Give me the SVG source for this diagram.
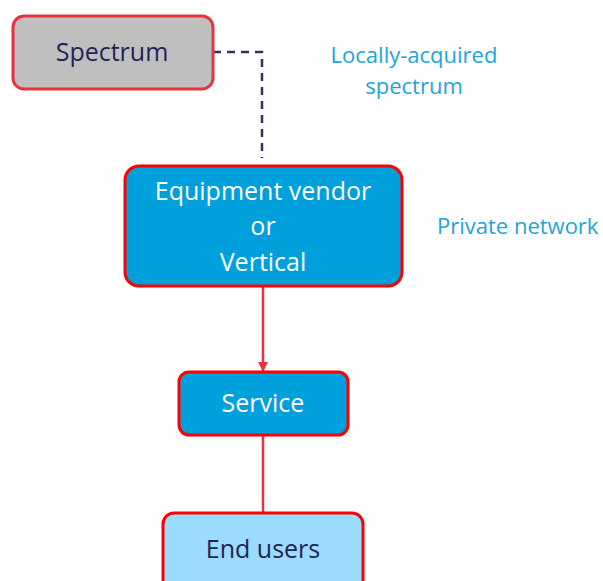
<svg xmlns="http://www.w3.org/2000/svg" width="603" height="581" viewBox="0 0 603 581">
<style>
.box{stroke-width:3}
.t{font-family:"Open Sans","Liberation Sans",sans-serif;font-size:25px;text-anchor:middle}
.lab{font-family:"Open Sans","Liberation Sans",sans-serif;font-size:22px;fill:#1ea4dc}
</style>
<defs>
<marker id="arr" viewBox="0 0 10 10" refX="9" refY="5" markerWidth="4" markerHeight="4" orient="auto" markerUnits="strokeWidth">
<path d="M0,0 L10,5 L0,10 z" fill="#e8333f"/>
</marker>
</defs>
<rect width="603" height="581" fill="#ffffff"/>
<g id="connectors">
<path d="M213,52 H262 V158" fill="none" stroke="#2e3560" stroke-width="2.5" stroke-dasharray="8,6"/>
<path d="M263,287 V371" fill="none" stroke="#e8333f" stroke-width="2.5" marker-end="url(#arr)"/>
<path d="M263,436 V513" fill="none" stroke="#e8333f" stroke-width="2.5"/>
</g>
<g id="spectrum">
<rect class="box" x="13" y="16" width="200" height="73" rx="11" fill="#bfbfbf" stroke="#e8333f"/>
<text class="t" x="112" y="61" fill="#1f2358">Spectrum</text>
</g>
<g id="vendor">
<rect class="box" x="125" y="166" width="277" height="120" rx="14" fill="#00a0dc" stroke="#ff0000"/>
<text class="t" x="263" y="200" fill="#ffffff">Equipment vendor</text>
<text class="t" x="263" y="235" fill="#ffffff">or</text>
<text class="t" x="263" y="271" fill="#ffffff">Vertical</text>
</g>
<g id="service">
<rect class="box" x="179" y="372" width="169" height="63" rx="10" fill="#00a0dc" stroke="#ff0000"/>
<text class="t" x="263" y="412" fill="#ffffff">Service</text>
</g>
<g id="endusers">
<rect class="box" x="163" y="513" width="200" height="80" rx="11" fill="#9bdcfd" stroke="#ff0000"/>
<text class="t" x="263" y="558" fill="#1f2358">End users</text>
</g>
<g id="labels">
<text class="lab" x="414" y="63" text-anchor="middle">Locally-acquired</text>
<text class="lab" x="414" y="94" text-anchor="middle">spectrum</text>
<text class="lab" x="437" y="234">Private network</text>
</g>
</svg>
